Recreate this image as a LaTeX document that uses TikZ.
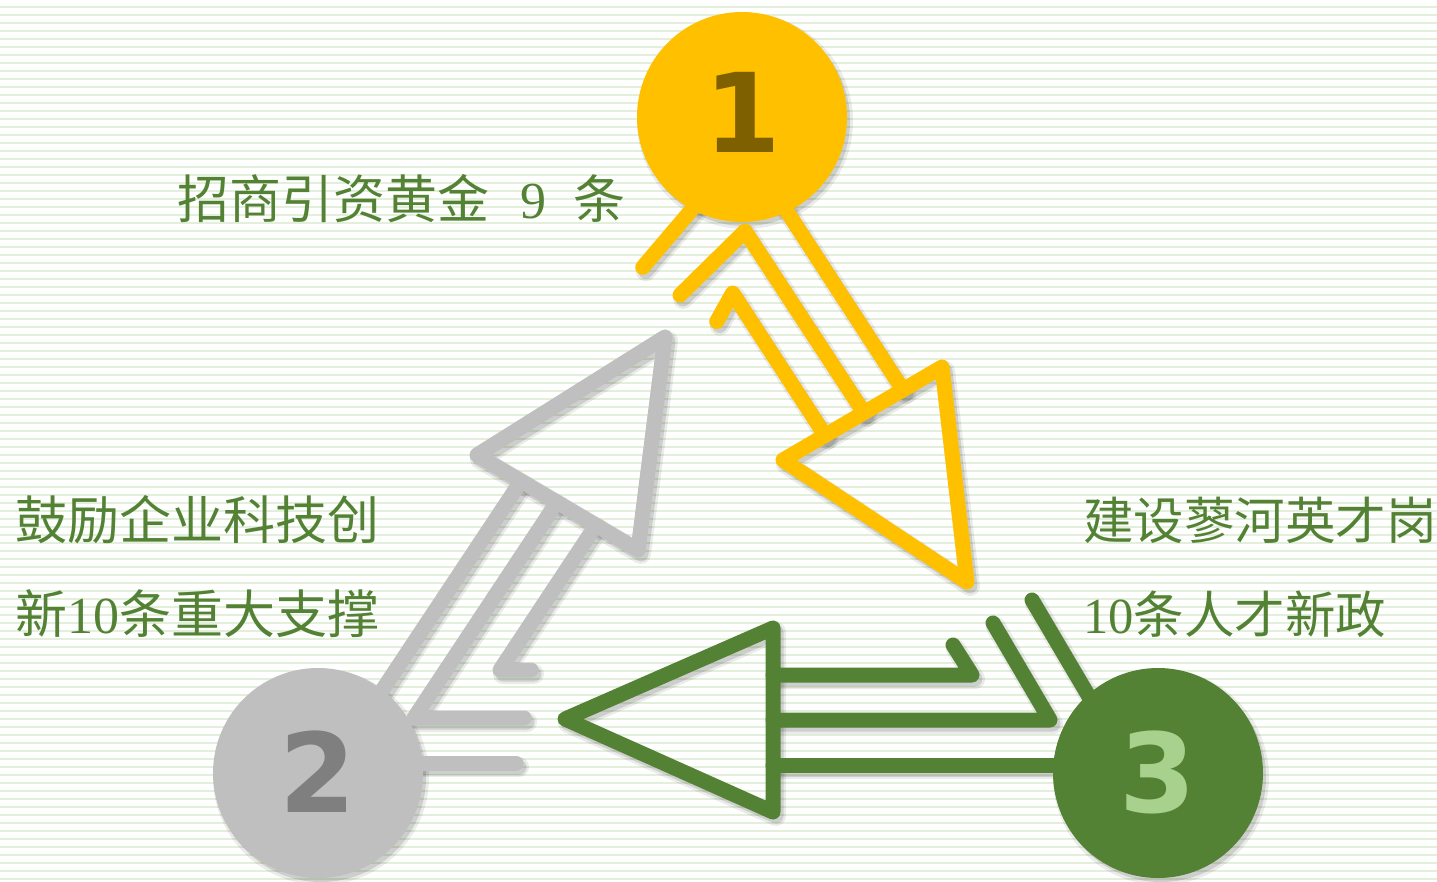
\documentclass[tikz,border=0pt]{standalone}
\usepackage{fontspec}
\newfontfamily\cjk{Noto Sans CJK SC}
\newfontfamily\lser{Liberation Serif}
\newfontfamily\dvs{DejaVu Sans}
\definecolor{cY}{HTML}{FFC000}
\definecolor{cG}{HTML}{BFBFBF}
\definecolor{cR}{HTML}{548235}
\definecolor{tY}{HTML}{7F6000}
\definecolor{tG}{HTML}{7F7F7F}
\definecolor{tR}{HTML}{A9D18E}
\definecolor{bgl}{HTML}{E2EFDA}
\definecolor{txt}{HTML}{548235}
\tikzset{
  ln/.style={line width=15pt, line cap=round, line join=round},
  bgline/.style={draw=bgl, line width=2pt},
  circ/.style={circle, minimum size=210pt, inner sep=0pt, outer sep=0pt},
  digit/.style={font=\dvs\bfseries\fontsize{110}{110}\selectfont, inner sep=0pt},
  lbl/.style={font=\cjk\fontsize{52}{60}\selectfont, text=txt, inner sep=0pt, anchor=base west},
  lblr/.style={font=\cjk\fontsize{50.5}{60}\selectfont, text=txt, inner sep=0pt, anchor=base west},
  shadA/.style={transform canvas={shift={(3pt,-4pt)}}, opacity=0.08},
  shadB/.style={transform canvas={shift={(3pt,-4pt)}}, opacity=0.12},
}
\newcommand\allarrows[4]{%
  % yellow arrow (1 -> 3)
  \draw[ln,draw=#1,#4] (Ya1) -- (intersection of Ya1--Ya2 and YL--YT);
  \draw[ln,draw=#1,#4] (Yb0) -- (Yb1) -- (intersection of Yb1--Yb2 and YL--YT);
  \draw[ln,draw=#1,#4] (Yc0) -- (Yc1) -- (intersection of Yc1--Yc2 and YL--YT);
  \draw[ln,draw=#1,#4] (Yd1) -- (Yd0);
  \draw[ln,draw=#1,#4] (YL) -- (YT) -- (YB) -- cycle;
  % gray arrow (2 -> 1)
  \draw[ln,draw=#2,#4] (Ga1) -- (intersection of Ga1--Ga2 and GL--GB);
  \draw[ln,draw=#2,#4] (Gb0) -- (Gb1) -- (intersection of Gb1--Gb2 and GL--GB);
  \draw[ln,draw=#2,#4] (Gc0) -- (Gc1) -- (intersection of Gc1--Gc2 and GL--GB);
  \draw[ln,draw=#2,#4] (Gd1) -- (Gd0);
  \draw[ln,draw=#2,#4] (GL) -- (GT) -- (GB) -- cycle;
  % green arrow (3 -> 2)
  \draw[ln,draw=#3,#4] (Ra2) -- (Ra1) -- (Ra0);
  \draw[ln,draw=#3,#4] (Rb2) -- (Rb1) -- (Rb0);
  \draw[ln,draw=#3,#4] (Rc2) -- (Rc1);
  \draw[ln,draw=#3,#4] (Rd1) -- (Rd0);
  \draw[ln,draw=#3,#4] (RL) -- (RT) -- (RB) -- cycle;
}
\begin{document}
\begin{tikzpicture}[x=1pt,y=-1pt]
\useasboundingbox (0,0) rectangle (1437,881);
\fill[white] (0,0) rectangle (1437,881);
\begin{scope}
\clip (0,0) rectangle (1437,881);
\foreach \k in {0,...,109} \draw[bgline] (0,7+8*\k) -- (1437,7+8*\k);

% yellow geometry
\coordinate (YL) at (783,460);
\coordinate (YT) at (942,367);
\coordinate (YB) at (967,582);
\coordinate (Ya1) at (766.5,180);
\coordinate (Ya2) at (941.9,450);
\coordinate (Yb0) at (680,295);
\coordinate (Yb1) at (745,231);
\coordinate (Yb2) at (888.2,450);
\coordinate (Yc0) at (716.7,321.5);
\coordinate (Yc1) at (732.6,293);
\coordinate (Yc2) at (834.6,450);
\coordinate (Yd1) at (705,194);
\coordinate (Yd0) at (642.7,267.3);
% gray geometry
\coordinate (GL) at (477,455);
\coordinate (GT) at (665,337);
\coordinate (GB) at (638,550);
\coordinate (Ga1) at (348.6,740.9);
\coordinate (Ga2) at (515,490);
\coordinate (Gb0) at (524,718);
\coordinate (Gb1) at (414,718);
\coordinate (Gb2) at (551,511);
\coordinate (Gc0) at (531,670);
\coordinate (Gc1) at (500,670);
\coordinate (Gc2) at (588,537);
\coordinate (Gd1) at (380,763);
\coordinate (Gd0) at (516,763);
% green geometry
\coordinate (RL) at (565,719);
\coordinate (RT) at (773,628);
\coordinate (RB) at (773,812);
\coordinate (Ra2) at (773,675);
\coordinate (Ra1) at (972,675);
\coordinate (Ra0) at (953,645);
\coordinate (Rb2) at (773,720);
\coordinate (Rb1) at (1050,720);
\coordinate (Rb0) at (993,623);
\coordinate (Rc2) at (773,765);
\coordinate (Rc1) at (1100,765);
\coordinate (Rd1) at (1098,712);
\coordinate (Rd0) at (1032,600);

% soft shadows
\begin{scope}[shadA]
  \allarrows{black}{black}{black}{line width=20pt}
  \fill[black] (742,117) circle[radius=108];
  \fill[black] (318,773) circle[radius=108];
  \fill[black] (1158,773) circle[radius=108];
\end{scope}
\begin{scope}[shadB]
  \allarrows{black}{black}{black}{}
  \fill[black] (742,117) circle[radius=105];
  \fill[black] (318,773) circle[radius=105];
  \fill[black] (1158,773) circle[radius=105];
\end{scope}

% arrows
\allarrows{cY}{cG}{cR}{}

% circles
\node[circ, fill=cY] (n1) at (742,117) {};
\node[circ, fill=cG] (n2) at (318,773) {};
\node[circ, fill=cR] (n3) at (1158,773) {};
\node[digit, text=tY] (d1) at (742.5,112.5) {1};
\node[digit, text=tG] (d2) at (318,772) {2};
\node[digit, text=tR] (d3) at (1158,772) {3};
\end{scope}

% labels
\node[lbl] (t1) at (177,218) {招商引资黄金\hspace{31pt}{\lser 9}\hspace{27pt}条};
\node[lbl] (t2) at (15,539) {鼓励企业科技创};
\node[lbl] (t3) at (15,633) {新{\lser 10}条重大支撑};
\node[lblr] (t4) at (1083,539) {建设蓼河英才岗};
\node[lblr] (t5) at (1083,633) {{\lser 10}条人才新政};
\end{tikzpicture}
\end{document}
